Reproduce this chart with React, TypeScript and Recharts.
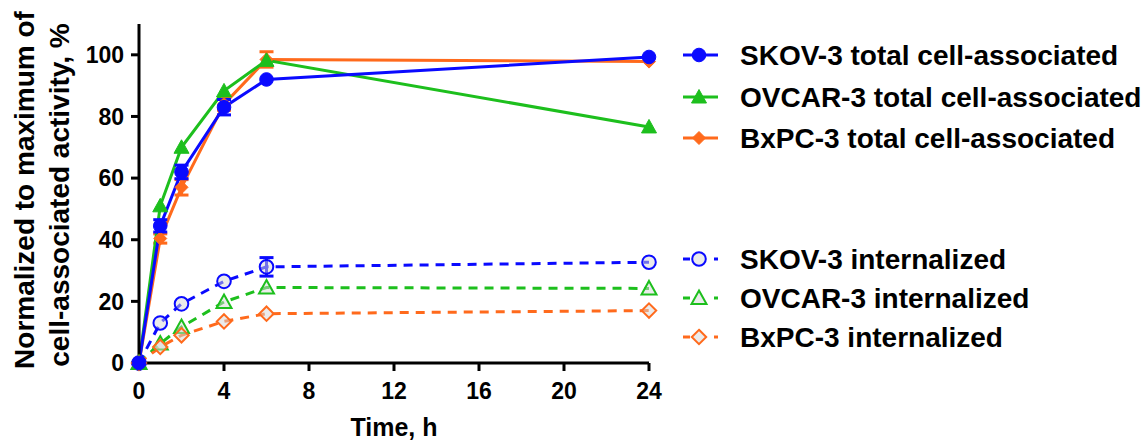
import React from 'react';
import { LineChart, Line, XAxis, YAxis, ErrorBar, Label, Legend } from 'recharts';

const times = [0, 1, 2, 4, 6, 24];
const xTicks = [0, 4, 8, 12, 16, 20, 24];
const yTicks = [0, 20, 40, 60, 80, 100];

const skovTotal = [0, 44.5, 62, 83, 92, 99.3];
const skovTotalErr = [0, 2, 2.2, 2.5, 0, 0];
const ovcarTotal = [0, 51, 70, 88.3, 98.2, 76.6];
const ovcarTotalErr = [0, 0, 0, 0, 0, 0];
const bxpcTotal = [0, 40.4, 57, 84, 98.5, 97.8];
const bxpcTotalErr = [0, 1.5, 2.5, 2, 2.5, 0];
const skovInt = [0, 13, 19.2, 26.5, 31.2, 32.7];
const skovIntErr = [0, 0, 0, 0, 3, 0];
const ovcarInt = [0, 6.3, 11.7, 19.8, 24.5, 24.2];
const ovcarIntErr = [0, 0, 0, 0, 0, 0];
const bxpcInt = [0, 5.2, 9, 13.5, 16, 17];
const bxpcIntErr = [0, 0, 0, 0, 0, 0];

const BLUE = '#0a0aff';
const GREEN = '#1dbf1d';
const ORANGE = '#ff6a1c';
const FONT = '"Liberation Sans", Arial, sans-serif';

const data = times.map((t, i) => ({
  t,
  skovTotal: skovTotal[i], skovTotalErr: skovTotalErr[i],
  ovcarTotal: ovcarTotal[i], ovcarTotalErr: ovcarTotalErr[i],
  bxpcTotal: bxpcTotal[i], bxpcTotalErr: bxpcTotalErr[i],
  skovInt: skovInt[i], skovIntErr: skovIntErr[i],
  ovcarInt: ovcarInt[i], ovcarIntErr: ovcarIntErr[i],
  bxpcInt: bxpcInt[i], bxpcIntErr: bxpcIntErr[i],
}));

type Shape = 'circle' | 'triangle' | 'diamond';

function marker(shape: Shape, cx: number, cy: number, color: string, filled: boolean, key?: any) {
  const fill = filled ? color : 'rgba(215,215,215,0.5)';
  const sw = filled ? 1 : 2;
  if (shape === 'circle') {
    const r = 6.8;
    return <circle key={key} cx={cx} cy={cy} r={r} fill={fill} stroke={color} strokeWidth={sw} />;
  }
  if (shape === 'triangle') {
    const s = 7.5;
    const pts = `${cx},${cy - s} ${cx + s},${cy + s * 0.8} ${cx - s},${cy + s * 0.8}`;
    return <polygon key={key} points={pts} fill={fill} stroke={color} strokeWidth={sw} />;
  }
  const s = filled ? 6.5 : 7.2;
  const pts = `${cx},${cy - s} ${cx + s},${cy} ${cx},${cy + s} ${cx - s},${cy}`;
  return <polygon key={key} points={pts} fill={fill} stroke={color} strokeWidth={sw} />;
}

const makeDot = (shape: Shape, color: string, filled: boolean) => (props: any) => {
  const { cx, cy, index } = props;
  if (cx == null || cy == null) return <g key={index} />;
  return marker(shape, cx, cy, color, filled, index);
};

const legendItems = [
  { name: 'SKOV-3 total cell-associated', color: BLUE, shape: 'circle' as Shape, filled: true, y: 55 },
  { name: 'OVCAR-3 total cell-associated', color: GREEN, shape: 'triangle' as Shape, filled: true, y: 97 },
  { name: 'BxPC-3 total cell-associated', color: ORANGE, shape: 'diamond' as Shape, filled: true, y: 138 },
  { name: 'SKOV-3 internalized', color: BLUE, shape: 'circle' as Shape, filled: false, y: 259 },
  { name: 'OVCAR-3 internalized', color: GREEN, shape: 'triangle' as Shape, filled: false, y: 298 },
  { name: 'BxPC-3 internalized', color: ORANGE, shape: 'diamond' as Shape, filled: false, y: 337 },
];

const renderLegend = () => (
  <svg width={460} height={443} style={{ position: 'absolute', left: 680, top: 0, overflow: 'visible' }}>
    {legendItems.map((it, i) => (
      <g key={i}>
        {it.filled ? (
          <line x1={3} x2={38} y1={it.y} y2={it.y} stroke={it.color} strokeWidth={3} />
        ) : (
          <g>
            <line x1={3} x2={10} y1={it.y} y2={it.y} stroke={it.color} strokeWidth={3} />
            <line x1={34} x2={38} y1={it.y} y2={it.y} stroke={it.color} strokeWidth={3} />
          </g>
        )}
        {marker(it.shape, 19, it.y, it.color, it.filled)}
        <text x={60} y={it.y} dy="0.36em" fontFamily={FONT} fontWeight="bold" fontSize={28} fill="#000">
          {it.name}
        </text>
      </g>
    ))}
  </svg>
);

const YLabel = () => (
  <g>
    <text transform="translate(34,190) rotate(-90)" textAnchor="middle" fontFamily={FONT} fontWeight="bold" fontSize={28} fill="#000">
      Normalized to maximum of
    </text>
    <text transform="translate(69,195) rotate(-90)" textAnchor="middle" fontFamily={FONT} fontWeight="bold" fontSize={28} fill="#000">
      cell-associated activity, %
    </text>
  </g>
);

const tickStyle = { fontFamily: FONT, fontWeight: 'bold', fontSize: 23, fill: '#000' };

export default function App() {
  const series = [
    { key: 'skovInt', err: 'skovIntErr', color: BLUE, shape: 'circle' as Shape, filled: false },
    { key: 'ovcarInt', err: 'ovcarIntErr', color: GREEN, shape: 'triangle' as Shape, filled: false },
    { key: 'bxpcInt', err: 'bxpcIntErr', color: ORANGE, shape: 'diamond' as Shape, filled: false },
    { key: 'bxpcTotal', err: 'bxpcTotalErr', color: ORANGE, shape: 'diamond' as Shape, filled: true },
    { key: 'ovcarTotal', err: 'ovcarTotalErr', color: GREEN, shape: 'triangle' as Shape, filled: true },
    { key: 'skovTotal', err: 'skovTotalErr', color: BLUE, shape: 'circle' as Shape, filled: true },
  ];
  return (
    <div style={{ position: 'absolute', left: 0, top: 0, width: 1141, height: 443, background: '#fff' }}>
      <LineChart width={1141} height={443} data={data} margin={{ top: 24, right: 492, bottom: 50, left: 0 }}>
        <XAxis
          dataKey="t"
          type="number"
          domain={[0, 24]}
          ticks={xTicks}
          interval={0}
          height={30}
          tick={tickStyle}
          tickSize={8}
          tickMargin={12}
          axisLine={{ stroke: '#000', strokeWidth: 3 }}
          tickLine={{ stroke: '#000', strokeWidth: 3 }}
        >
          <Label value="Time, h" position="bottom" offset={25} style={{ fontFamily: FONT, fontWeight: 'bold', fontSize: 25, fill: '#000' }} />
        </XAxis>
        <YAxis
          type="number"
          domain={[0, 110]}
          ticks={yTicks}
          interval={0}
          width={139}
          tick={tickStyle}
          tickSize={8}
          tickMargin={7}
          axisLine={{ stroke: '#000', strokeWidth: 3 }}
          tickLine={{ stroke: '#000', strokeWidth: 3 }}
        >
          <Label content={<YLabel />} />
        </YAxis>
        <Legend content={renderLegend} wrapperStyle={{ position: 'absolute', left: 0, top: 0, width: 0, height: 0 }} />
        {series.map((s) => (
          <Line
            key={s.key}
            dataKey={s.key}
            stroke={s.color}
            strokeWidth={3}
            strokeDasharray={s.filled ? undefined : '9 7'}
            dot={makeDot(s.shape, s.color, s.filled)}
            activeDot={false}
            isAnimationActive={false}
            legendType="none"
          >
            <ErrorBar dataKey={s.err} direction="y" width={7} stroke={s.color} strokeWidth={3} />
          </Line>
        ))}
      </LineChart>
    </div>
  );
}
